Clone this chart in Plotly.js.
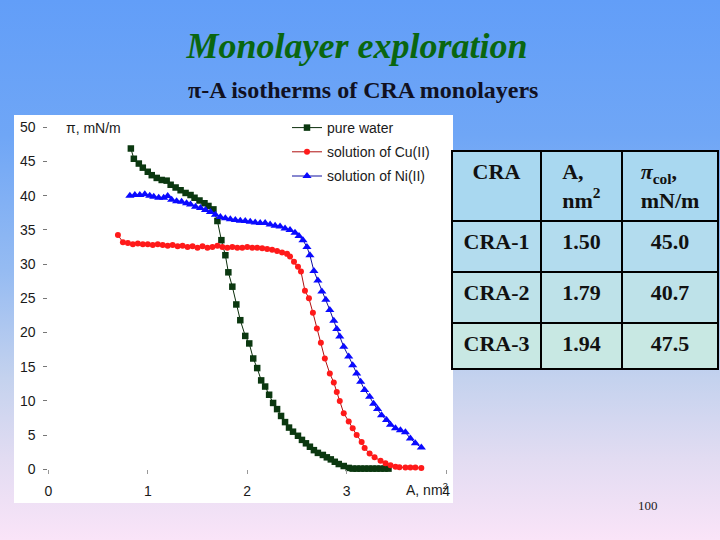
<!DOCTYPE html>
<html>
<head>
<meta charset="utf-8">
<script src="https://cdn.plot.ly/plotly-3.0.1.min.js"></script>
<style>
  html, body { margin: 0; padding: 0; width: 720px; height: 540px; overflow: hidden; }
  body { background: linear-gradient(to bottom, #629ef8 0%, #6fa6f6 25%, #95bbf2 50%, #c4d2ee 70%, #e2dcf2 85%, #fae4f8 100%); }
  #chart { position: absolute; left: 0; top: 0; width: 720px; height: 540px; }
</style>
</head>
<body>
<div id="chart"></div>
<script>
// ---- Data ----
const seriesNames = ["pure water", "solution of Cu(II)", "solution of Ni(II)"];

const waterA = [0.83,0.86,0.91,0.95,1.00,1.04,1.09,1.14,1.19,1.23,1.28,1.33,1.38,1.43,1.47,1.52,1.57,1.61,1.66,1.70,
  1.74,1.78,1.81,1.85,1.89,1.93,1.98,2.02,2.06,2.10,2.14,2.18,2.22,2.26,2.30,2.34,2.38,2.42,2.46,2.51,
  2.55,2.59,2.63,2.67,2.71,2.76,2.80,2.84,2.88,2.92,2.97,3.02,3.06,3.10,3.14,3.18,3.22,3.26,3.30,3.34,3.38,3.42];
const waterPi = [46.9,45.4,44.7,44.1,43.5,43.0,42.6,42.3,42.2,41.6,41.2,40.8,40.4,40.1,39.7,39.3,38.9,38.5,38.0,36.3,
  33.5,31.3,28.8,26.7,24.1,21.8,19.5,18.4,16.2,14.8,13.0,12.1,10.9,9.7,8.8,7.8,6.9,6.1,5.5,4.9,
  4.3,3.8,3.3,2.8,2.4,2.1,1.75,1.45,1.1,0.77,0.48,0.2,0.1,0.1,0.1,0.1,0.1,0.1,0.1,0.1,0.1,0.1];

const cuA = [0.70,0.75,0.80,0.85,0.90,0.95,1.00,1.05,1.10,1.15,1.20,1.25,1.30,1.35,1.40,1.45,1.50,1.55,1.60,1.65,
  1.70,1.75,1.80,1.85,1.90,1.95,2.00,2.05,2.10,2.15,2.20,2.25,2.30,2.35,2.40,
  2.43,2.47,2.51,2.54,2.58,2.62,2.66,2.70,2.74,2.78,2.83,2.87,2.90,2.93,2.97,3.02,3.06,3.10,3.15,3.18,
  3.23,3.28,3.34,3.39,3.44,3.49,3.53,3.59,3.64,3.69,3.75];
const cuPi = [34.25,33.2,33.1,32.9,33.0,32.9,32.9,32.8,32.9,32.8,32.7,32.8,32.6,32.7,32.5,32.6,32.4,32.6,32.4,32.5,
  32.7,32.5,32.4,32.5,32.4,32.4,32.5,32.4,32.4,32.3,32.2,32.1,31.9,31.7,31.5,
  31.1,30.35,29.6,28.9,26.1,25.0,22.9,20.6,18.5,16.2,14.0,12.7,11.3,10.0,8.2,7.0,6.0,5.0,4.0,3.1,
  2.3,1.75,1.26,0.88,0.58,0.38,0.29,0.25,0.25,0.25,0.2];

const niA = [0.82,0.87,0.92,0.97,1.02,1.06,1.11,1.16,1.20,1.24,1.29,1.34,1.39,1.43,1.48,1.53,1.58,1.63,1.68,1.73,
  1.78,1.83,1.88,1.93,1.98,2.03,2.08,2.13,2.18,2.23,2.28,2.33,2.38,2.43,2.48,2.52,2.56,2.60,2.63,2.67,
  2.71,2.75,2.79,2.83,2.87,2.90,2.93,2.97,3.02,3.06,3.10,3.14,3.18,3.23,3.27,3.31,3.35,3.40,3.44,3.49,
  3.54,3.59,3.64,3.69,3.75];
const niPi = [40.0,40.1,40.1,40.2,40.0,39.85,39.7,39.7,39.95,39.4,39.2,39.1,38.9,38.7,38.4,38.2,37.9,37.6,37.2,36.9,
  36.7,36.55,36.45,36.35,36.3,36.2,36.1,36.0,36.0,35.8,35.6,35.5,35.2,35.0,34.6,34.1,33.5,32.5,31.3,29.0,
  27.6,26.0,24.8,23.3,21.7,20.5,19.4,17.9,16.5,15.2,14.0,12.8,11.6,10.6,9.6,8.8,7.9,7.2,6.5,6.0,
  5.7,5.4,4.5,3.8,3.2];

const xTickVals = [0, 1, 2, 3, 4];
const yTickVals = [0, 5, 10, 15, 20, 25, 30, 35, 40, 45, 50];

const tableHeader = ["<b>CRA</b>", "<b>A,</b><br><b>nm<sup>2</sup></b>", "<b><i>π</i><sub>col</sub>,</b><br><b>mN/m</b>"];
const tableNames = ["CRA-1", "CRA-2", "CRA-3"];
const tableArea = ["1.50", "1.79", "1.94"];
const tablePi = ["45.0", "40.7", "47.5"];

// ---- Figure ----
const W = 720, H = 540;
const px = v => v / W;            // paper x fraction (margins are 0)
const py = v => 1 - v / H;        // paper y fraction from a top pixel

const sansFont = "Liberation Sans, Arial, sans-serif";
const serifFont = "Liberation Serif, Times New Roman, serif";

const rowFill = ["#b3dcee", "#bee2e9", "#c8e8e3"];
const bold = s => "<b>" + s + "</b>";

const traces = [
  {
    type: "scatter", mode: "lines+markers", name: seriesNames[0], legendgroup: "g1",
    x: waterA, y: waterPi, cliponaxis: false,
    line: { color: "#0b2e0b", width: 1 },
    marker: { symbol: "square", size: 6.5, color: "#0b3810" }
  },
  {
    type: "scatter", mode: "lines+markers", name: seriesNames[1], legendgroup: "g2",
    x: cuA, y: cuPi, cliponaxis: false,
    line: { color: "#b01010", width: 1 },
    marker: { symbol: "circle", size: 6, color: "#ff1a1a" }
  },
  {
    type: "scatter", mode: "lines+markers", name: seriesNames[2], legendgroup: "g3",
    x: niA, y: niPi, cliponaxis: false,
    line: { color: "#1010a0", width: 1 },
    marker: { symbol: "triangle-up", size: 8, color: "#0a0aff" }
  },
  {
    type: "table",
    domain: { x: [px(452), px(718)], y: [py(369), py(151)] },
    columnwidth: [89, 81, 96],
    header: {
      values: tableHeader,
      height: 64,
      align: "center",
      fill: { color: "#a9d8f0" },
      line: { color: "#000", width: 2 },
      font: { family: serifFont, size: 22, color: "#111" }
    },
    cells: {
      values: [tableNames.map(bold), tableArea.map(bold), tablePi.map(bold)],
      height: 51,
      align: "center",
      fill: { color: [rowFill, rowFill, rowFill] },
      line: { color: "#000", width: 2 },
      font: { family: serifFont, size: 22, color: "#111" }
    }
  }
];

const layout = {
  width: W, height: H,
  margin: { l: 0, r: 0, t: 0, b: 0, autoexpand: false },
  paper_bgcolor: "rgba(0,0,0,0)",
  plot_bgcolor: "rgba(0,0,0,0)",
  title: {
    text: "<b><i>Monolayer exploration</i></b>",
    font: { family: serifFont, size: 36, color: "#0a6610" },
    x: px(357), xref: "paper", xanchor: "center",
    y: py(45), yref: "paper", yanchor: "middle"
  },
  xaxis: {
    domain: [px(48.3), px(446.2)],
    range: [0, 4],
    tickvals: xTickVals,
    ticks: "outside", ticklen: 4, tickcolor: "#999", tickwidth: 1,
    ticklabelstandoff: 5,
    showgrid: false, zeroline: false, showline: false,
    tickfont: { family: sansFont, size: 14, color: "#1a1a1a" }
  },
  yaxis: {
    domain: [py(469.3), py(127.3)],
    range: [0, 50],
    tickvals: yTickVals,
    ticks: "outside", ticklen: 4, tickcolor: "#777", tickwidth: 1,
    ticklabelstandoff: 5,
    showgrid: false, zeroline: false, showline: false,
    tickfont: { family: sansFont, size: 14, color: "#1a1a1a" }
  },
  showlegend: true,
  legend: {
    xref: "paper", yref: "paper",
    x: px(287), y: py(112), xanchor: "left", yanchor: "top",
    bgcolor: "rgba(0,0,0,0)",
    font: { family: sansFont, size: 14, color: "#1a1a1a" },
    traceorder: "grouped", tracegroupgap: 3
  },
  shapes: [
    { type: "rect", xref: "paper", yref: "paper", layer: "below",
      x0: px(14), x1: px(453), y0: py(503), y1: py(115),
      fillcolor: "#ffffff", line: { width: 0 } },
    { type: "rect", xref: "paper", yref: "paper", layer: "above",
      x0: px(452), x1: px(718), y0: py(369), y1: py(151),
      fillcolor: "rgba(0,0,0,0)", line: { color: "#000", width: 2 } }
  ],
  annotations: [
    { text: "<b>π-A isotherms of CRA monolayers</b>", xref: "paper", yref: "paper",
      x: px(363), y: py(90), xanchor: "center", yanchor: "middle", showarrow: false,
      font: { family: serifFont, size: 24, color: "#111122" } },
    { text: "π, mN/m", xref: "paper", yref: "paper",
      x: px(64), y: py(128), xanchor: "left", yanchor: "middle", showarrow: false,
      font: { family: sansFont, size: 14, color: "#1a1a1a" } },
    { text: "A, nm<sup>2</sup>", xref: "paper", yref: "paper",
      x: px(404), y: py(489), xanchor: "left", yanchor: "middle", showarrow: false,
      font: { family: sansFont, size: 14, color: "#1a1a1a" } },
    { text: "100", xref: "paper", yref: "paper",
      x: px(648), y: py(505), xanchor: "center", yanchor: "middle", showarrow: false,
      font: { family: serifFont, size: 13, color: "#222" } }
  ]
};

Plotly.newPlot("chart", traces, layout, { displayModeBar: false, staticPlot: true });
</script>
</body>
</html>
